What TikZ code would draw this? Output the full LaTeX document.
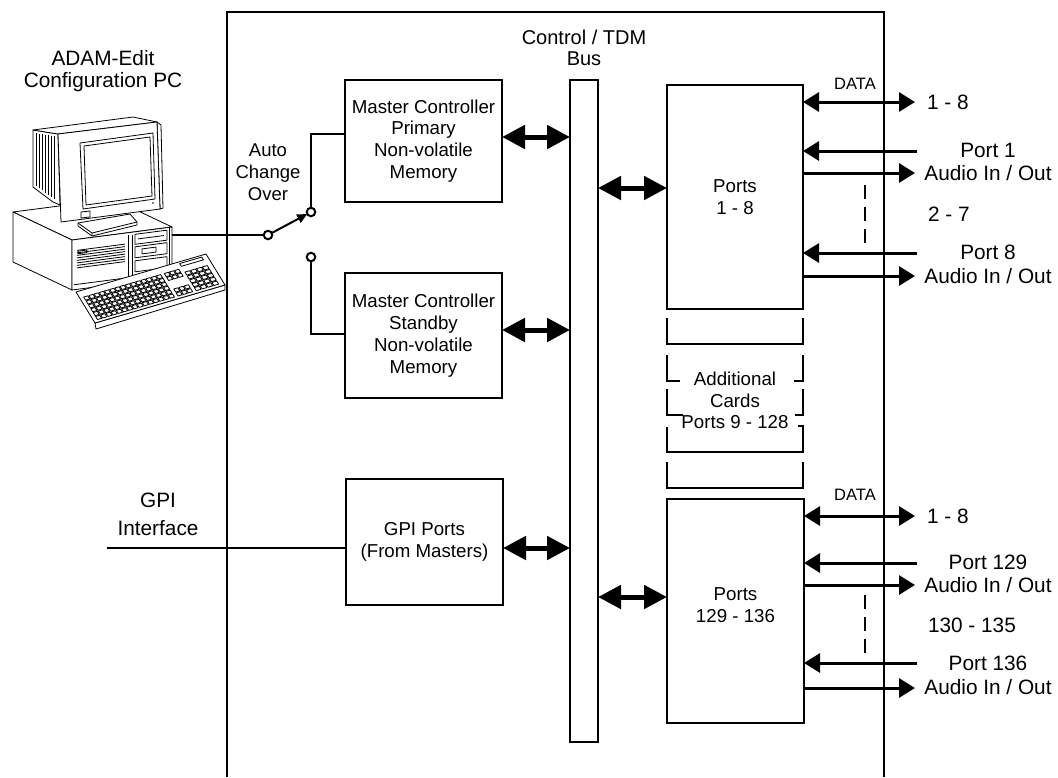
\documentclass[tikz,border=0pt]{standalone}
\usepackage{fontspec}
\setmainfont{Liberation Sans}
\usetikzlibrary{arrows.meta}
\newcommand\boxfont{\fontsize{18.7pt}{21.8pt}\selectfont}
\newcommand\lblfont{\fontsize{20.8pt}{21.5pt}\selectfont}
\newcommand\portfont{\fontsize{20.8pt}{23.5pt}\selectfont}
\newcommand\gpifont{\fontsize{20.8pt}{28pt}\selectfont}
\newcommand\busfont{\fontsize{20pt}{21pt}\selectfont}
\newcommand\autofont{\fontsize{18.5pt}{22pt}\selectfont}
\newcommand\datafont{\fontsize{16.5pt}{18pt}\selectfont}
\begin{document}
\begin{tikzpicture}[x=1pt,y=-1pt,
  every node/.style={inner sep=0pt,outer sep=0pt},
  blockbox/.style={draw,line width=2pt,align=center,font=\boxfont},
  txt/.style={align=center},
  wire/.style={line width=2pt},
  busarrow/.style={line width=5pt,{Triangle[length=23pt,width=23pt]}-{Triangle[length=23pt,width=23pt]}},
  sigboth/.style={line width=3pt,{Triangle[length=16pt,width=19pt]}-{Triangle[length=16pt,width=19pt]}},
  sigto/.style={line width=3pt,-{Triangle[length=16pt,width=19pt]}},
  swpin/.style={circle,draw,line width=2pt,fill=white,minimum size=8.5pt},
  portdash/.style={line width=2.5pt,dash pattern=on 14pt off 8pt},
  cardline/.style={line width=2pt},
  pcline/.style={line width=0.8pt,line join=round},
]
\useasboundingbox (0,0) rectangle (1058,777);

% ---------- equipment frame (open at the bottom) ----------
\draw[line width=2pt] (227,777) -- (227,12) -- (884,12) -- (884,777);

% ---------- configuration PC ----------
% system unit
\filldraw[pcline,fill=white] (13,212) -- (113,199) -- (172,227) -- (72,240) -- cycle;
\filldraw[pcline,fill=white] (13,212) -- (72,240) -- (72,290) -- (13,262) -- cycle;
\filldraw[pcline,fill=white] (72,240) -- (172,227) -- (172,277) -- (72,290) -- cycle;
\begin{scope}[shift={(72,240)},x={(100pt,13pt)},y={(0pt,-50pt)},pcline]
  \draw (0.56,0.05) -- (0.56,0.95) (0.60,0.05) -- (0.60,0.95);
  \foreach \v in {0.22,0.27,...,0.62} \draw (0.05,\v) -- (0.53,\v);
  \draw (0.06,0.24) -- (0.15,0.24) -- (0.15,0.29) -- (0.06,0.29) -- cycle;
  \draw (0.63,0.05) -- (0.95,0.05) -- (0.95,0.25) -- (0.63,0.25) -- cycle;
  \draw (0.66,0.15) -- (0.92,0.15);
  \draw (0.63,0.30) -- (0.95,0.30) -- (0.95,0.52) -- (0.63,0.52) -- cycle;
  \draw (0.70,0.36) -- (0.84,0.36) -- (0.84,0.46) -- (0.70,0.46) -- cycle;
  \draw (0.63,0.58) -- (0.95,0.58) -- (0.95,0.80) -- (0.63,0.80) -- cycle;
  \draw (0.97,0.0) -- (0.97,1.0);
  \draw (0.02,0.9) -- (0.98,0.9);
\end{scope}
% monitor
\filldraw[pcline,fill=white] (33,130) -- (58,134) -- (60,205) -- (53,202) -- (33,187) -- cycle;
\foreach \xx in {36,39,...,54}
  \draw[pcline] (\xx,{130+0.16*(\xx-33)+3}) -- (\xx,{187+0.72*(\xx-33)-3});
\filldraw[pcline,fill=white] (33,130) -- (133,117) -- (157,122) -- (58,134) -- cycle;
\filldraw[pcline,fill=white] (78,223) -- (130,214) -- (137,222) -- (137,225) -- (92,236) -- (78,226) -- cycle;
\draw[pcline] (78,223) -- (92,233) -- (137,222) (92,233) -- (92,236);
\filldraw[pcline,fill=white] (157,122) -- (161,125) -- (163,208) -- (160,209) -- cycle;
\filldraw[pcline,fill=white] (58,134) -- (157,122) -- (160,209) -- (61,222) -- cycle;
\draw[pcline] (80,143) -- (153,133) -- (155,199) -- (83,209) -- cycle;
\draw[pcline] (84,146) -- (150,137) -- (152,196) -- (86,205) -- cycle;
\draw[pcline] (81,212) -- (90,211) -- (90,217) -- (81,218) -- cycle;
\fill (153,203) circle (0.8pt);
% keyboard
\filldraw[pcline,fill=white] (95,323) -- (225,285) -- (225,290) -- (96,329) -- cycle;
\begin{scope}[shift={(76,292)},x={(130pt,38pt)},y={(19pt,-31pt)},pcline]
  \filldraw[fill=white] (0,0) -- (1,0) -- (1,1) -- (0,1) -- cycle;
  \foreach \r in {0,...,5}
    \foreach \c in {0,...,14}
      \draw ({0.03+\c*0.04},{0.2+\r*0.125}) -- ++(0.032,0) -- ++(0,0.1) -- ++(-0.032,0) -- cycle;
  \foreach \r in {0,1,4,5}
    \foreach \c in {0,1,2}
      \draw ({0.65+\c*0.04},{0.2+\r*0.125}) -- ++(0.032,0) -- ++(0,0.1) -- ++(-0.032,0) -- cycle;
  \foreach \r in {1,...,5}
    \foreach \c in {0,...,3}
      \draw ({0.79+\c*0.045},{0.2+\r*0.125}) -- ++(0.037,0) -- ++(0,0.1) -- ++(-0.037,0) -- cycle;
  \draw (0.79,0.05) -- (0.96,0.05) -- (0.96,0.14) -- (0.79,0.14) -- cycle;
\end{scope}

\node[txt,font=\lblfont] (pclabel) at (103,71) {ADAM-Edit\\Configuration PC};

% ---------- blocks ----------
\node[blockbox,minimum width=157pt,minimum height=122pt] (primary) at (423.5,141)
  {Master Controller\\Primary\\Non-volatile\\Memory};
\node[blockbox,minimum width=157pt,minimum height=125pt] (standby) at (423.5,335.5)
  {Master Controller\\Standby\\Non-volatile\\Memory};
\node[blockbox,minimum width=157pt,minimum height=126pt] (gpi) at (424.5,542)
  {GPI Ports\\(From Masters)};
\node[blockbox,minimum width=28pt,minimum height=662pt] (bus) at (584,411) {};
\node[blockbox,minimum width=136pt,minimum height=224pt] (ports1) at (735,197) {Ports\\1 - 8};
\node[blockbox,minimum width=137pt,minimum height=224pt] (ports2) at (735.5,611) {};
\node[txt,font=\boxfont] (ports2txt) at (735.5,605.5) {Ports\\129 - 136};

\node[txt,font=\busfont] (buslabel) at (584,47.5) {Control / TDM\\Bus};

% ---------- additional cards stack ----------
\draw[cardline] (667,318) -- (667,344) -- (803,344) -- (803,318);
\draw[cardline] (667,355) -- (667,381) -- (680,381) (794,381) -- (803,381) -- (803,355);
\draw[cardline] (667,389) -- (667,415) -- (683,415) (795,415) -- (803,415) -- (803,389);
\draw[cardline] (798,426) -- (803,426) -- (803,452) -- (667,452) -- (667,427);
\draw[cardline] (667,462) -- (667,488) -- (803,488) -- (803,462);
\node[txt,font=\boxfont] (addl) at (735,400.5) {Additional\\Cards\\Ports 9 - 128};

% ---------- bus connections ----------
\coordinate (ya) at (0,137);
\coordinate (yb) at (0,330);
\coordinate (yc) at (0,548);
\coordinate (yd) at (0,188);
\coordinate (ye) at (0,597);
\draw[busarrow] (primary.east |- ya) -- (bus.west |- ya);
\draw[busarrow] (standby.east |- yb) -- (bus.west |- yb);
\draw[busarrow] (gpi.east |- yc) -- (bus.west |- yc);
\draw[busarrow] (bus.east |- yd) -- (ports1.west |- yd);
\draw[busarrow] (bus.east |- ye) -- (ports2.west |- ye);

% ---------- change-over switch ----------
\node[swpin] (swin) at (268,235) {};
\node[swpin] (swa) at (311,212) {};
\node[swpin] (swb) at (311,257) {};
\coordinate (pcport) at (172,235);
\coordinate (ka) at (0,134);
\coordinate (kb) at (0,334);
\draw[wire] (pcport) -- (swin);
\draw[wire,-{Triangle[length=10pt,width=9pt]}] (swin) -- (swa);
\draw[wire] (swa) -- (swa |- ka) -- (primary.west |- ka);
\draw[wire] (swb) -- (swb |- kb) -- (standby.west |- kb);
\node[txt,font=\autofont] (aco) at (268,172) {Auto\\Change\\Over};

% ---------- GPI interface ----------
\coordinate (gpiend) at (107,548);
\draw[wire] (gpiend) -- (gpi.west |- gpiend);
\node[txt,font=\gpifont] (gpilabel) at (158,514) {GPI\\Interface};

% ---------- ports 1 - 8 ----------
\coordinate (da) at (915,102);
\coordinate (p1in) at (917,151);
\coordinate (p1out) at (915,173);
\coordinate (p8in) at (917,253);
\coordinate (p8out) at (915,276);
\draw[sigboth] (ports1.east |- da) -- (da);
\draw[sigto] (p1in) -- (ports1.east |- p1in);
\draw[sigto] (ports1.east |- p1out) -- (p1out);
\draw[sigto] (p8in) -- (ports1.east |- p8in);
\draw[sigto] (ports1.east |- p8out) -- (p8out);
\coordinate (dsa) at (865,185);
\coordinate (dsb) at (865,243);
\draw[portdash] (dsa) -- (dsb);
\node[font=\datafont] (data1) at (855,84) {DATA};
\node[font=\lblfont,anchor=west] (r1) at (927,102) {1 - 8};
\node[txt,font=\portfont] (p1lbl) at (988,162) {Port 1\\Audio In / Out};
\node[font=\lblfont,anchor=west] (r2) at (928,214) {2 - 7};
\node[txt,font=\portfont] (p8lbl) at (988,264.5) {Port 8\\Audio In / Out};

% ---------- ports 129 - 136 ----------
\coordinate (db) at (915,516);
\coordinate (p129in) at (917,563);
\coordinate (p129out) at (915,585);
\coordinate (p136in) at (917,663);
\coordinate (p136out) at (915,688);
\draw[sigboth] (ports2.east |- db) -- (db);
\draw[sigto] (p129in) -- (ports2.east |- p129in);
\draw[sigto] (ports2.east |- p129out) -- (p129out);
\draw[sigto] (p136in) -- (ports2.east |- p136in);
\draw[sigto] (ports2.east |- p136out) -- (p136out);
\coordinate (dsc) at (865,595);
\coordinate (dsd) at (865,653);
\draw[portdash] (dsc) -- (dsd);
\node[font=\datafont] (data2) at (855,495) {DATA};
\node[font=\lblfont,anchor=west] (r3) at (927,516) {1 - 8};
\node[txt,font=\portfont] (p129lbl) at (988,574) {Port 129\\Audio In / Out};
\node[font=\lblfont,anchor=west] (r4) at (928,625) {130 - 135};
\node[txt,font=\portfont] (p136lbl) at (988,675.5) {Port 136\\Audio In / Out};
\end{tikzpicture}
\end{document}
